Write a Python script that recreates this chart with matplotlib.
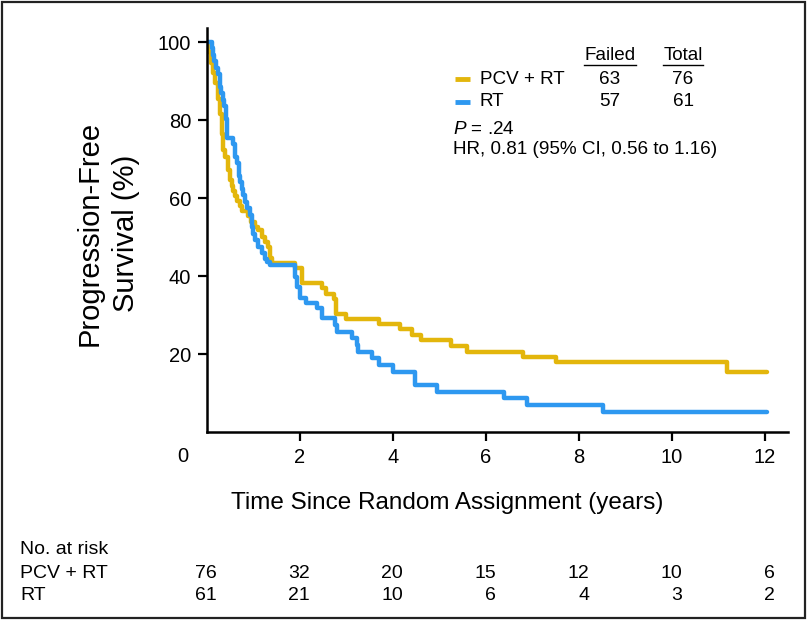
import matplotlib
matplotlib.use("Agg")
import matplotlib.pyplot as plt
from matplotlib.lines import Line2D
from matplotlib.patches import Rectangle

plt.rcParams['font.family'] = ['Liberation Sans', 'DejaVu Sans']
plt.rcParams['mathtext.fontset'] = 'custom'
plt.rcParams['mathtext.rm'] = 'Liberation Sans'
plt.rcParams['mathtext.it'] = 'Liberation Sans:italic'

# Kaplan-Meier steps (years, % progression-free)
pcv_t = [0, 0.03, 0.08, 0.13, 0.18, 0.24, 0.28, 0.32, 0.35, 0.39, 0.46, 0.49,
         0.53, 0.56, 0.60, 0.64, 0.70, 0.75, 0.88, 0.95, 1.03, 1.10, 1.18, 1.25,
         1.31, 1.35, 1.39, 1.89, 2.05, 2.47, 2.57, 2.73, 2.77, 3.00, 3.70, 4.15,
         4.40, 4.60, 5.24, 5.59, 6.80, 7.50, 11.18, 12.04]
pcv_s = [100, 97.4, 94.7, 92.1, 89.5, 85.5, 81.6, 76.3, 72.4, 70.6, 67.1, 64.5,
         63.2, 61.8, 60.5, 59.2, 57.9, 56.6, 55.3, 53.9, 52.6, 51.8, 50.1, 48.7,
         47.4, 44.7, 43.4, 42.1, 38.3, 36.8, 35.5, 34.2, 30.3, 28.9, 27.6, 26.3,
         25.0, 23.7, 22.0, 20.6, 19.2, 17.9, 15.4, 15.4]

rt_t = [0, 0.10, 0.13, 0.16, 0.19, 0.23, 0.27, 0.31, 0.34, 0.37, 0.40, 0.43,
        0.56, 0.60, 0.64, 0.68, 0.71, 0.75, 0.78, 0.82, 0.85, 0.92, 0.96, 1.00,
        1.03, 1.10, 1.18, 1.25, 1.30, 1.35, 1.89, 1.94, 2.00, 2.13, 2.37, 2.47,
        2.75, 2.79, 3.11, 3.22, 3.25, 3.56, 3.71, 4.01, 4.47, 4.94, 6.40, 6.88,
        8.53, 12.04]
rt_s = [100, 98.4, 96.7, 95.1, 93.4, 91.8, 88.5, 86.9, 85.2, 83.6, 80.3, 75.4,
        73.8, 70.5, 68.9, 65.6, 64.0, 62.3, 60.7, 59.0, 57.4, 55.7, 52.5, 50.8,
        49.2, 47.5, 45.9, 44.3, 43.6, 42.8, 39.8, 37.3, 34.3, 33.0, 31.8, 29.2,
        27.4, 25.7, 24.1, 22.3, 20.6, 18.9, 17.2, 15.5, 12.0, 10.3, 8.6, 6.9,
        5.2, 5.2]

groups = ['PCV + RT', 'RT']
failed = [63, 57]
total = [76, 61]
risk_times = [0, 2, 4, 6, 8, 10, 12]
risk_pcv = [76, 32, 20, 15, 12, 10, 6]
risk_rt = [61, 21, 10, 6, 4, 3, 2]

YELLOW = '#E3B60C'
BLUE = '#2E98F0'

W, H = 809, 621
fig = plt.figure(figsize=(W / 100, H / 100), dpi=100)


def fx(px):
    return px / W


def fy(py):
    return 1 - py / H


ax = fig.add_axes([fx(207), fy(432), fx(788) - fx(207), fy(28) - fy(432)])
ax.step(pcv_t, pcv_s, where='post', color=YELLOW, lw=3.2, solid_capstyle='round')
ax.step(rt_t, rt_s, where='post', color=BLUE, lw=3.2, solid_capstyle='round')

ax.set_xlim(0, 12.5)
ax.set_ylim(0, 103.6)
ax.set_xticks([2, 4, 6, 8, 10, 12])
ax.set_yticks([20, 40, 60, 80, 100])
for side in ['top', 'right']:
    ax.spines[side].set_visible(False)
for side in ['left', 'bottom']:
    ax.spines[side].set_linewidth(1.8)
ax.tick_params(length=6.5, width=1.6, labelsize=14.5, pad=5)

fig.text(fx(183), fy(457), '0', fontsize=14.5, ha='center', va='center')

fig.text(fx(90), fy(233), 'Progression-Free', rotation=90,
         ha='center', va='center', fontsize=21)
fig.text(fx(126), fy(233), 'Survival (%)', rotation=90,
         ha='center', va='center', fontsize=21)
fig.text(fx(447), fy(503), 'Time Since Random Assignment (years)',
         ha='center', va='center', fontsize=17.5)

# legend block
leg_fs = 13.6
for label, cx in [('Failed', 610), ('Total', 683)]:
    t = fig.text(fx(cx), fy(55), label, ha='center', va='center', fontsize=leg_fs)
    fig.canvas.draw()
    bb = t.get_window_extent()
    fig.add_artist(Line2D([bb.x0 / W, bb.x1 / W], [fy(65)] * 2, color='black', lw=1))

rows_y = [79, 102]
for i, g in enumerate(groups):
    col = [YELLOW, BLUE][i]
    fig.add_artist(Line2D([fx(455), fx(470)], [fy(rows_y[i])] * 2, color=col, lw=3.5,
                          solid_capstyle='butt'))
    fig.text(fx(480), fy(rows_y[i]), g, ha='left', va='center', fontsize=leg_fs)
    fig.text(fx(610), fy(rows_y[i]), str(failed[i]), ha='center', va='center', fontsize=leg_fs)
    fig.text(fx(683), fy(rows_y[i]), str(total[i]), ha='center', va='center', fontsize=leg_fs)

fig.text(fx(453), fy(129), r'$P$ = .24', ha='left', va='center', fontsize=leg_fs)
fig.text(fx(453), fy(150), 'HR, 0.81 (95% CI, 0.56 to 1.16)', ha='left', va='center',
         fontsize=leg_fs)

# number at risk table
tab_fs = 14
fig.text(fx(20), fy(550), 'No. at risk', ha='left', va='center', fontsize=tab_fs)
for lab, vals, py in [('PCV + RT', risk_pcv, 573), ('RT', risk_rt, 596)]:
    fig.text(fx(20), fy(py), lab, ha='left', va='center', fontsize=tab_fs)
    for tt, v in zip(risk_times, vals):
        xd = ax.transData.transform((tt + 0.22, 0))[0]
        fig.text(xd / W, fy(py), str(v), ha='right', va='center', fontsize=tab_fs)

fig.add_artist(Rectangle((fx(2), fy(618)), fx(805) - fx(2), fy(2) - fy(618),
                         fill=False, edgecolor='#222222', lw=1.6,
                         transform=fig.transFigure))

fig.savefig('out.png', dpi=100)
